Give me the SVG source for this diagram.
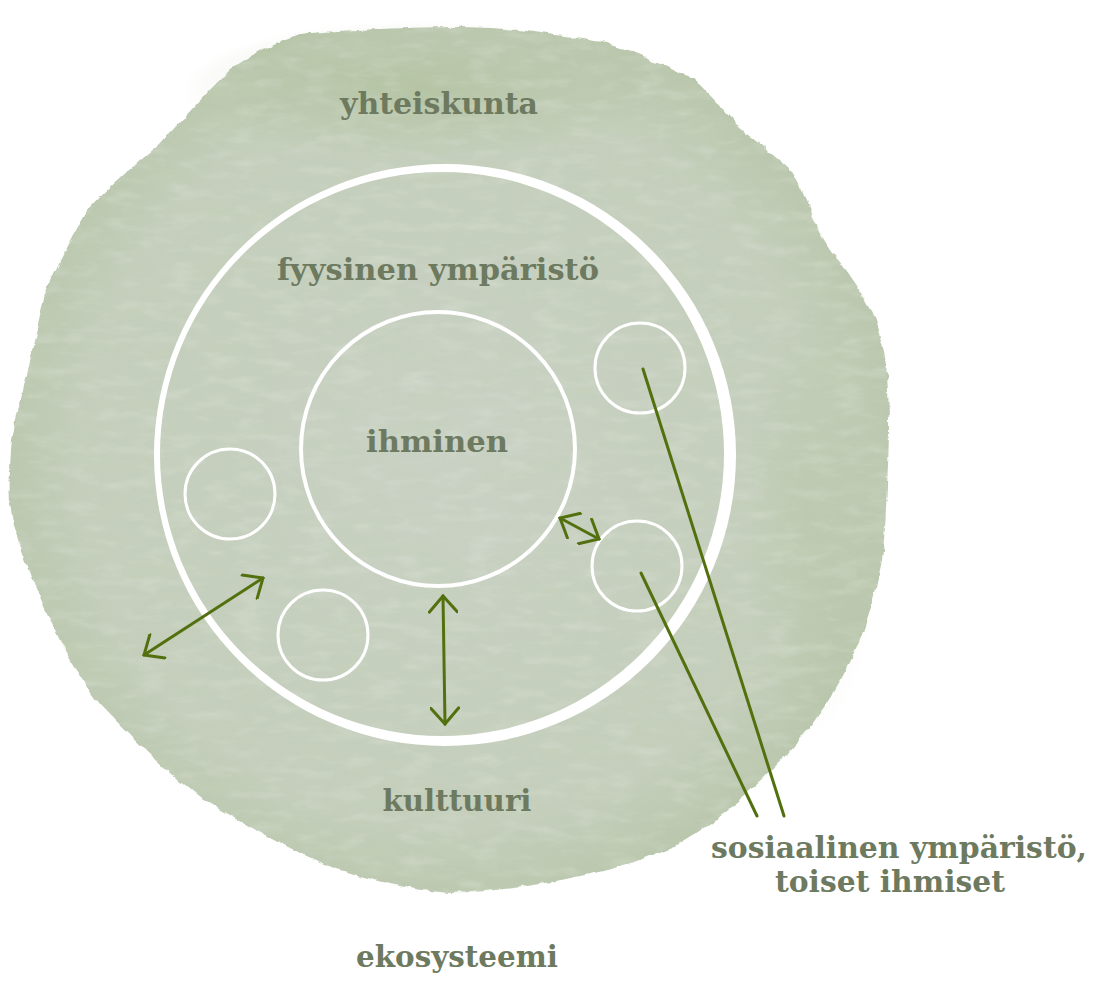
<svg xmlns="http://www.w3.org/2000/svg" width="1107" height="981" viewBox="0 0 1107 981">
  <defs>
    <style>
      .lbl { font-family: "DejaVu Serif", "Liberation Serif", serif; font-weight: bold; font-size: 30px; fill: #6d7a5f; text-anchor: middle; }
      .ring { fill: none; stroke: #ffffff; }
      .conn { fill: none; stroke: #53700f; stroke-width: 3; stroke-linecap: round; }
    </style>
    <radialGradient id="wash" cx="0.5" cy="0.5" r="0.53">
      <stop offset="0" stop-color="#c9d1c4"/>
      <stop offset="0.8" stop-color="#c4cebb"/>
      <stop offset="0.97" stop-color="#bac7ad"/>
      <stop offset="1" stop-color="#adbf9c"/>
    </radialGradient>
    <radialGradient id="topwash" cx="0.5" cy="0.5" r="0.5">
      <stop offset="0" stop-color="#a3b889" stop-opacity="0.45"/>
      <stop offset="1" stop-color="#a3b889" stop-opacity="0"/>
    </radialGradient>
    <filter id="rough" x="-3%" y="-3%" width="106%" height="106%">
      <feTurbulence type="fractalNoise" baseFrequency="0.07" numOctaves="3" seed="4" result="n"/>
      <feDisplacementMap in="SourceGraphic" in2="n" scale="6" xChannelSelector="R" yChannelSelector="G"/>
    </filter>
    <filter id="tex" x="0" y="0" width="100%" height="100%">
      <feTurbulence type="fractalNoise" baseFrequency="0.015 0.05" numOctaves="4" seed="9" result="n"/>
      <feColorMatrix in="n" type="matrix" values="0 0 0 0 0.56  0 0 0 0 0.64  0 0 0 0 0.48  0 0 0 2.2 -1.0" result="c"/>
      <feComposite in="c" in2="SourceGraphic" operator="in"/>
    </filter>
    <filter id="tex2" x="0" y="0" width="100%" height="100%">
      <feTurbulence type="fractalNoise" baseFrequency="0.03 0.09" numOctaves="3" seed="21" result="n"/>
      <feColorMatrix in="n" type="matrix" values="0 0 0 0 0.86  0 0 0 0 0.88  0 0 0 0 0.84  0 0 0 2.4 -1.15" result="c"/>
      <feComposite in="c" in2="SourceGraphic" operator="in"/>
    </filter>
    <marker id="head" viewBox="0 0 20 30" refX="18" refY="15" markerWidth="20" markerHeight="30" markerUnits="userSpaceOnUse" orient="auto-start-reverse">
      <path d="M2,1 L18,15 L2,29" fill="none" stroke="#53700f" stroke-width="3" stroke-linecap="round" stroke-linejoin="miter"/>
    </marker>
    <path id="blobShape" d="M300,34 C340,30 420,27 460,27 C500,28 520,30 540,33 C575,37 590,40 607,43 C630,50 645,56 655,62 C675,70 690,78 700,85 C715,100 728,115 740,128 C760,145 778,158 790,170 C802,190 810,210 818,228 C826,245 834,255 842,265 C855,282 866,298 873,313 C880,330 884,348 886,365 C888,385 889,405 889,425 C889,445 888,465 887,485 C886,510 885,535 882,560 C876,590 868,620 858,645 C845,675 828,703 810,727 C790,752 768,775 745,795 C722,815 700,832 680,843 C645,860 612,870 575,877 C535,886 492,892 450,893 C410,890 372,881 335,868 C312,859 289,848 267,836 C243,823 221,810 200,797 C182,783 165,768 150,754 C132,737 115,720 100,704 C88,688 77,671 67,654 C58,637 50,620 43,604 C36,587 29,570 23,553 C17,536 12,520 10,503 C9,482 10,461 12,440 C16,418 21,396 27,375 C33,348 38,321 45,295 C57,266 72,237 88,210 C110,186 134,165 158,146 C182,120 205,94 230,70 C252,55 275,42 300,34 Z"/>
  </defs>

  <rect x="0" y="0" width="1107" height="981" fill="#ffffff"/>

  <g id="ecosystem-area">
    <use href="#blobShape" fill="url(#wash)" filter="url(#rough)"/>
    <ellipse cx="420" cy="90" rx="240" ry="70" fill="url(#topwash)"/>
    <ellipse cx="810" cy="520" rx="70" ry="220" fill="url(#topwash)" opacity="0.5"/>
    <use href="#blobShape" fill="#000" filter="url(#tex)" opacity="0.45"/>
    <use href="#blobShape" fill="#000" filter="url(#tex2)" opacity="0.22"/>
  </g>

  <g id="yhteiskunta">
    <text class="lbl" x="439" y="114" textLength="198" lengthAdjust="spacingAndGlyphs">yhteiskunta</text>
  </g>

  <g id="fyysinen-ymparisto">
    <path fill="#ffffff" fill-rule="evenodd" d="M154,455 A291,291 0 1,0 736,455 A291,291 0 1,0 154,455 Z M160,454 A282,282 0 1,0 724,454 A282,282 0 1,0 160,454 Z"/>
    <text class="lbl" x="438" y="280" textLength="322" lengthAdjust="spacingAndGlyphs">fyysinen ympäristö</text>
  </g>

  <g id="ihminen">
    <circle class="ring" cx="438" cy="449" r="137" stroke-width="4"/>
    <text class="lbl" x="437" y="452" textLength="142" lengthAdjust="spacingAndGlyphs">ihminen</text>
  </g>

  <g id="toinen-ihminen-1">
    <circle class="ring" cx="640" cy="368" r="45" stroke-width="3"/>
  </g>
  <g id="toinen-ihminen-2">
    <circle class="ring" cx="230" cy="494" r="45" stroke-width="3"/>
  </g>
  <g id="toinen-ihminen-3">
    <circle class="ring" cx="323" cy="635" r="45" stroke-width="3"/>
  </g>
  <g id="toinen-ihminen-4">
    <circle class="ring" cx="637" cy="566" r="45" stroke-width="3"/>
  </g>

  <g id="kulttuuri">
    <text class="lbl" x="457" y="811" textLength="149" lengthAdjust="spacingAndGlyphs">kulttuuri</text>
  </g>

  <g id="sosiaalinen-ymparisto">
    <text class="lbl" x="899" y="858" textLength="376" lengthAdjust="spacingAndGlyphs">sosiaalinen ympäristö,</text>
    <text class="lbl" x="890" y="892" textLength="230" lengthAdjust="spacingAndGlyphs">toiset ihmiset</text>
  </g>

  <g id="ekosysteemi">
    <text class="lbl" x="457" y="967" textLength="202" lengthAdjust="spacingAndGlyphs">ekosysteemi</text>
  </g>

  <g id="connectors">
    <line class="conn" x1="443" y1="596" x2="445" y2="724" marker-start="url(#head)" marker-end="url(#head)"/>
    <line class="conn" x1="144" y1="655" x2="263" y2="578" marker-start="url(#head)" marker-end="url(#head)"/>
    <line class="conn" x1="560" y1="518" x2="599" y2="539" stroke-width="4" marker-start="url(#head)" marker-end="url(#head)"/>
    <line class="conn" x1="643" y1="369" x2="784" y2="816"/>
    <line class="conn" x1="641" y1="573" x2="757" y2="816"/>
  </g>
</svg>
